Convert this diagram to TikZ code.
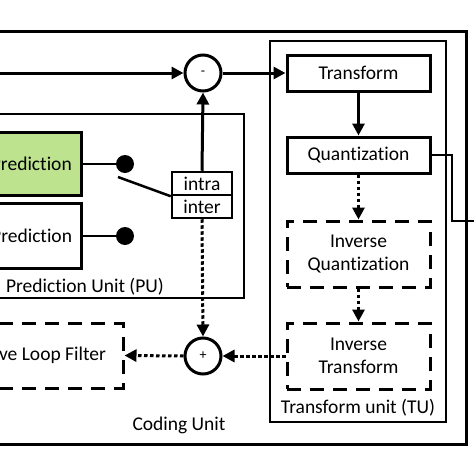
\documentclass[tikz,border=0pt]{standalone}
\usepackage{fontspec}
\setmainfont{Carlito}[Ligatures=NoCommon]
\usetikzlibrary{arrows.meta}
\definecolor{predgreen}{HTML}{BDE38F}
\tikzset{
  blk/.style={draw, line width=3pt, minimum width=143pt, minimum height=36pt, inner sep=0pt, align=center, font=\fontsize{19.5}{23}\selectfont},
  dblk/.style={blk, dash pattern=on 14pt off 9pt, minimum height=66pt},
  sumc/.style={draw, circle, line width=3pt, minimum size=36pt, inner sep=0pt, font=\fontsize{14}{16}\selectfont},
  lbl/.style={font=\fontsize{19.5}{23}\selectfont, inner sep=0pt},
  sel/.style={draw, line width=2.5pt, minimum width=60pt, minimum height=23pt, inner sep=0pt, font=\fontsize{19.5}{23}\selectfont},
  arr/.style={line width=3pt, -{Triangle[length=12pt,width=12pt]}},
  darr/.style={line width=3pt, dash pattern=on 3.5pt off 2.5pt, -{Triangle[length=12pt,width=12pt]}},
  thinbox/.style={draw, line width=1.5pt},
  dotc/.style={circle, fill=black, minimum size=18pt, inner sep=0pt}
}
\begin{document}
\begin{tikzpicture}[x=1pt,y=-1pt]
\useasboundingbox (0,0) rectangle (474,474);
\clip (0,0) rectangle (474,474);
% containers
\draw[line width=3pt] (-20,31) rectangle (466,444);
\draw[thinbox] (270,41) rectangle (446,422);
\draw[thinbox] (-20,114) rectangle (244,298);
\node[lbl] (cul) at (179,425) {Coding Unit};
\node[lbl] (tul) at (358,408) {Transform unit (TU)};
\node[lbl] (pul) at (85,287) {Prediction Unit (PU)};
% TU blocks
\node[blk] (tr) at (358.5,73) {Transform};
\node[blk] (qu) at (358.5,155) {Quantization};
\node[dblk] (iq) at (358.5,254) {Inverse\\Quantization};
\node[dblk] (it) at (358.5,356) {Inverse\\Transform};
% sums
\node[sumc] (minus) at (203,73) {-};
\node[sumc] (plus) at (203,356) {+};
% prediction
\node[blk, fill=predgreen, minimum width=141pt, minimum height=63pt] (intrap) at (10.5,163.5) {Intra Prediction};
\node[blk, minimum width=141pt, minimum height=65pt] (interp) at (10.5,235.5) {Inter Prediction};
\node[dotc] (d1) at (125,164) {};
\node[dotc] (d2) at (125,236) {};
\node[sel] (intra) at (202,183.5) {intra};
\node[sel] (inter) at (202,206.5) {inter};
\node[dblk, minimum width=193pt, minimum height=65pt] (alf) at (26.5,355.5) {Adaptive Loop Filter};
% coordinates
\coordinate (in) at (-10,73);
\coordinate (sw) at (118,177);
\coordinate (q1) at (452,155);
\coordinate (q2) at (452,221);
\coordinate (out) at (480,221);
% connectors
\draw[arr] (in) -- (minus.west);
\draw[arr] (minus.east) -- (tr.west);
\draw[arr] (tr.south) -- (qu.north);
\draw[darr] (qu.south) -- (iq.north);
\draw[darr] (iq.south) -- (it.north);
\draw[darr] (it.west) -- (plus.east);
\draw[darr] (plus.west) -- (alf.east);
\draw[darr] (inter.south) -- (plus.north);
\draw[arr] (intra.north) -- (minus.south);
\draw[line width=2.5pt] (intrap.east |- d1) -- (d1.center);
\draw[line width=2.5pt] (interp.east |- d2) -- (d2.center);
\draw[line width=2.5pt] (sw) -- (intra.south west);
\draw[line width=2pt] (qu.east) -- (q1) -- (q2) -- (out);
\end{tikzpicture}
\end{document}
